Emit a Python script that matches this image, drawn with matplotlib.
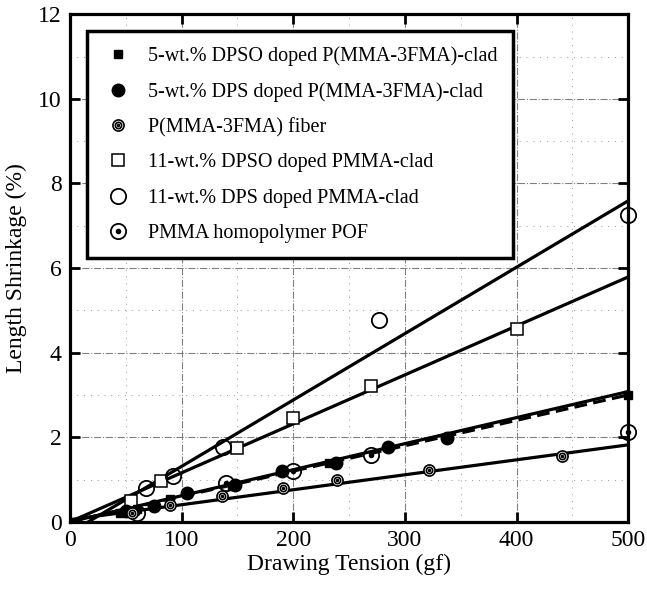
import numpy as np
import matplotlib
matplotlib.use("Agg")
import matplotlib.pyplot as plt
from matplotlib.legend_handler import HandlerTuple
from matplotlib.ticker import MultipleLocator

plt.rcParams['font.family'] = ['Liberation Serif', 'DejaVu Serif']

# --- data (tension in gf, shrinkage in %) ---
dpso5_x = [45, 60, 90, 145, 232, 500]
dpso5_y = [0.20, 0.30, 0.55, 0.85, 1.38, 3.00]

dps5_x = [50, 75, 105, 148, 190, 238, 285, 338]
dps5_y = [0.25, 0.38, 0.68, 0.87, 1.20, 1.38, 1.77, 1.98]

fiber_x = [56, 90, 136, 191, 239, 322, 441]
fiber_y = [0.20, 0.40, 0.60, 0.80, 1.00, 1.22, 1.56]

dpso11_x = [55, 82, 150, 200, 270, 400]
dpso11_y = [0.50, 0.97, 1.75, 2.45, 3.20, 4.55]

dps11_x = [68, 92, 137, 277, 500]
dps11_y = [0.80, 1.08, 1.78, 4.78, 7.25]

pmma_x = [60, 140, 200, 270, 500]
pmma_y = [0.22, 0.92, 1.20, 1.58, 2.12]

# fitted lines, values at x = 0 and x = 500
line_x = [0, 500]
line_dps11 = [-0.26, 7.59]
line_dpso11 = [0.0, 5.79]
line_dps5 = [0.0, 3.08]
line_dpso5 = [0.0, 3.00]
line_fiber = [0.05, 1.82]

legend_labels = ['5-wt.% DPSO doped P(MMA-3FMA)-clad',
                 '5-wt.% DPS doped P(MMA-3FMA)-clad',
                 'P(MMA-3FMA) fiber',
                 '11-wt.% DPSO doped PMMA-clad',
                 '11-wt.% DPS doped PMMA-clad',
                 'PMMA homopolymer POF']

fig = plt.figure(figsize=(6.47, 5.95), dpi=100)
ax = fig.add_axes([0.108, 0.123, 0.863, 0.853])

# fit lines
lw = 2.3
ax.plot(line_x, line_dps11, color='black', lw=lw, zorder=2)
ax.plot(line_x, line_dpso11, color='black', lw=lw, zorder=2)
ax.plot(line_x, line_dps5, color='black', lw=lw, zorder=2)
ax.plot(line_x, line_dpso5, color='black', lw=lw, ls=(0, (4, 2)), zorder=2)
ax.plot(line_x, line_fiber, color='black', lw=lw, zorder=2)

# markers
mk = dict(ls='none', clip_on=False)
h1, = ax.plot(dpso5_x, dpso5_y, 's', color='black', ms=6, zorder=4, **mk)
h2, = ax.plot(dps5_x, dps5_y, 'o', color='black', ms=9, zorder=4, **mk)
f_out, = ax.plot(fiber_x, fiber_y, 'o', mfc='white', mec='black', mew=1.2,
                 ms=8, zorder=4, **mk)
f_in, = ax.plot(fiber_x, fiber_y, 'o', mfc='none', mec='black', mew=1.2,
                ms=4.5, zorder=5, **mk)
f_dot, = ax.plot(fiber_x, fiber_y, 'o', color='black', ms=1.5, zorder=5, **mk)
h4, = ax.plot(dpso11_x, dpso11_y, 's', mfc='white', mec='black', mew=1.1,
              ms=8, zorder=3, **mk)
h5, = ax.plot(dps11_x, dps11_y, 'o', mfc='none', mec='black', mew=1.3,
              ms=11, zorder=3, **mk)
p_out, = ax.plot(pmma_x, pmma_y, 'o', mfc='none', mec='black', mew=1.3,
                 ms=11, zorder=3, **mk)
p_dot, = ax.plot(pmma_x, pmma_y, 'o', color='black', ms=3, zorder=3, **mk)

ax.set_xlim(0, 500)
ax.set_ylim(0, 12)
ax.xaxis.set_major_locator(MultipleLocator(100))
ax.yaxis.set_major_locator(MultipleLocator(2))
ax.xaxis.set_minor_locator(MultipleLocator(50))
ax.yaxis.set_minor_locator(MultipleLocator(1))

ax.grid(True, which='major', color='0.5', lw=0.8, ls='-.')
ax.grid(True, which='minor', color='0.6', lw=0.7, ls=(0, (1, 6)))
ax.set_axisbelow(True)

ax.tick_params(which='major', direction='in', length=7, width=2,
               top=True, right=True, labelsize=17, pad=6)
ax.tick_params(which='minor', length=0)
for sp in ax.spines.values():
    sp.set_linewidth(2.3)

ax.set_xlabel('Drawing Tension (gf)', fontsize=17, labelpad=2)
ax.set_ylabel('Length Shrinkage (%)', fontsize=17, labelpad=8)

handles = [h1, h2, (f_out, f_in, f_dot), h4, h5, (p_out, p_dot)]
leg = ax.legend(handles, legend_labels, loc='upper left',
                bbox_to_anchor=(0.03, 0.967), fontsize=14.5, frameon=True,
                fancybox=False, framealpha=1, edgecolor='black',
                handler_map={tuple: HandlerTuple(ndivide=1, pad=0)},
                borderpad=0.75, labelspacing=0.8, handletextpad=0.7,
                handlelength=1.6, borderaxespad=0)
leg.get_frame().set_linewidth(2.5)
leg.set_zorder(10)

fig.savefig('out.png', dpi=100)
